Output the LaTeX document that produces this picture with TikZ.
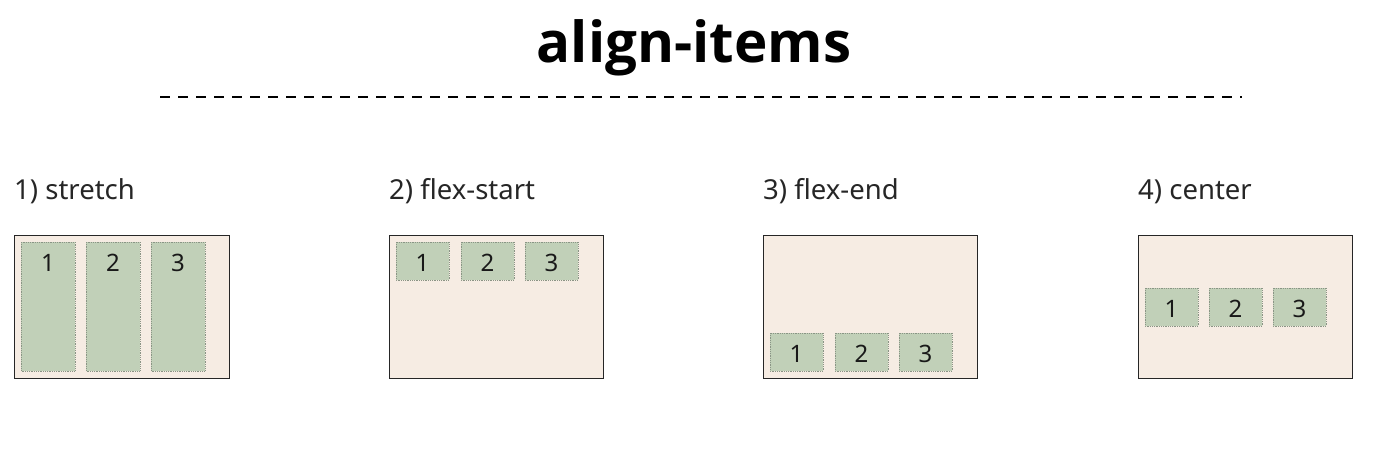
\documentclass[tikz,border=0pt]{standalone}
\usepackage{fontspec}
\setmainfont{Noto Sans}
\newfontfamily\titlefont{Open Sans}[BoldFont={Open Sans Bold}]
\definecolor{boxbg}{HTML}{F6ECE3}
\definecolor{itembg}{HTML}{C1D0B8}
\definecolor{itemborder}{HTML}{8A9485}
\begin{document}
\begin{tikzpicture}[x=1pt,y=-1pt,
  container/.style={draw=black!85,line width=0.9pt,fill=boxbg},
  item/.style={draw=itemborder,densely dotted,line width=0.8pt,fill=itembg},
  num/.style={font=\fontsize{24}{24}\selectfont,text=black!90,inner sep=0pt,anchor=base},
  lbl/.style={font=\fontsize{27.5}{28}\selectfont,text=black!85,anchor=base west,inner sep=0pt}]
\useasboundingbox (0,0) rectangle (1378,476);
\node[font=\titlefont\bfseries\fontsize{56.5}{57}\selectfont,inner sep=0pt,anchor=base] (title) at (694,63) {align-items};
\coordinate (dl) at (160,97);
\coordinate (dr) at (1242,97);
\draw[line width=1.6pt,dash pattern=on 10pt off 8pt] (dl) -- (dr);
% labels
\node[lbl] (l1) at (14,199) {1) stretch};
\node[lbl] (l2) at (389,199) {2) flex-start};
\node[lbl] (l3) at (763,199) {3) flex-end};
\node[lbl] (l4) at (1138,199) {4) center};
% containers
\draw[container] (14,235) rectangle (229,378);
\draw[container] (389,235) rectangle (603,378);
\draw[container] (763,235) rectangle (977,378);
\draw[container] (1138,235) rectangle (1352,378);
% 1 stretch
\foreach \x/\n in {21/1,86/2,151/3}{
  \draw[item] (\x,242) rectangle (\x+54,371);
  \node[num] at (\x+27,271) {\n};
}
% 2 flex-start
\foreach \x/\n in {396/1,461/2,525/3}{
  \draw[item] (\x,242) rectangle (\x+53,280);
  \node[num] at (\x+26.5,271) {\n};
}
% 3 flex-end
\foreach \x/\n in {770/1,835/2,899/3}{
  \draw[item] (\x,333) rectangle (\x+53,371);
  \node[num] at (\x+26.5,362) {\n};
}
% 4 center
\foreach \x/\n in {1145/1,1209/2,1273/3}{
  \draw[item] (\x,288) rectangle (\x+53,326);
  \node[num] at (\x+26.5,317) {\n};
}
\end{tikzpicture}
\end{document}
